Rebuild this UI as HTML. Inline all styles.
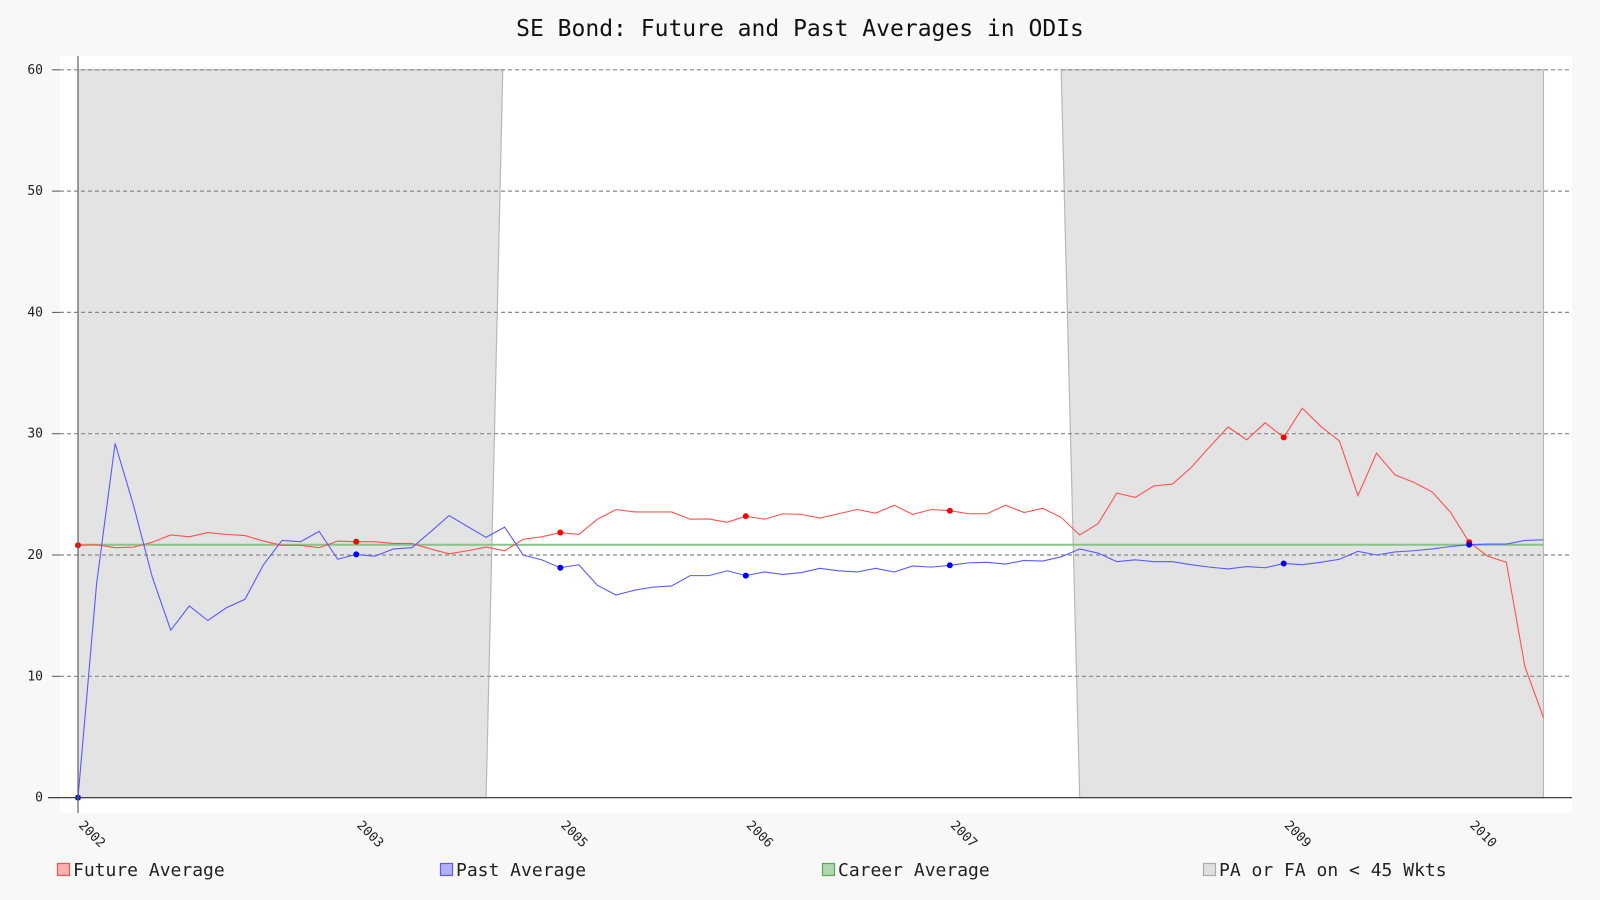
<!DOCTYPE html>
<html><head><meta charset="utf-8"><style>
html,body{margin:0;padding:0;background:#f8f8f8;}
svg{display:block;font-family:"DejaVu Sans Mono","Liberation Mono",monospace;}
</style></head><body>
<svg id="chart" width="1600" height="900" viewBox="0 0 1600 900" xmlns="http://www.w3.org/2000/svg">
<rect x="0" y="0" width="1600" height="900" fill="#f8f8f8"/>
<text x="800" y="36" text-anchor="middle" font-size="23" fill="#111">SE Bond: Future and Past Averages in ODIs</text>
<rect x="60" y="56" width="1512" height="757" fill="#ffffff"/>
<g id="shade"></g>
<g id="grid"></g>
<g id="series"></g>
<g id="axes"></g>
<g id="legend"></g>
</svg>
<script>
const yTicks = [0,10,20,30,40,50,60];
const xLabelIdx = [0,15,26,36,47,65,75];
const xLabels = ["2002","2003","2005","2006","2007","2009","2010"];
const future = [20.8,20.85,20.6,20.65,21.05,21.65,21.5,21.85,21.7,21.6,21.15,20.8,20.8,20.6,21.15,21.1,21.1,20.95,20.95,20.5,20.1,20.35,20.65,20.35,21.3,21.5,21.85,21.7,22.95,23.75,23.55,23.55,23.55,22.95,22.97,22.7,23.2,22.95,23.4,23.35,23.05,23.4,23.75,23.45,24.1,23.35,23.75,23.65,23.4,23.4,24.1,23.5,23.85,23.1,21.65,22.6,25.1,24.75,25.7,25.85,27.2,28.9,30.55,29.5,30.9,29.7,32.1,30.6,29.4,24.9,28.4,26.6,26.0,25.2,23.5,21.05,19.9,19.4,10.8,6.6];
const past = [0,17.6,29.2,24.05,18.2,13.8,15.8,14.6,15.65,16.35,19.2,21.2,21.1,21.95,19.65,20.05,19.9,20.5,20.6,21.9,23.25,22.35,21.45,22.3,20.0,19.6,18.95,19.2,17.5,16.7,17.1,17.35,17.45,18.3,18.3,18.7,18.3,18.6,18.4,18.55,18.9,18.7,18.6,18.9,18.6,19.1,19.0,19.15,19.35,19.4,19.25,19.55,19.5,19.85,20.5,20.15,19.45,19.6,19.45,19.45,19.2,19.0,18.85,19.05,18.95,19.3,19.2,19.4,19.65,20.3,20.0,20.25,20.35,20.5,20.7,20.85,20.9,20.9,21.2,21.25];
const career = [20.85];
const markerIdx = [0,15,26,36,47,65,75];
const shadeRegions = [
  {topStart:0, topEnd:22.9, botStart:0, botEnd:22.0},
  {topStart:53.0, topEnd:79, botStart:54.0, botEnd:79}
];
const shadeTop = [60];
const legendNames = ["Future Average","Past Average","Career Average","PA or FA on < 45 Wkts"];

const NS="http://www.w3.org/2000/svg";
function X(i){return 78 + i*18.55;}
function Y(v){return 797.6 - v*12.13;}
function mk(tag,attrs,parent){const e=document.createElementNS(NS,tag);for(const k in attrs)e.setAttribute(k,attrs[k]);parent.appendChild(e);return e;}
const shade=document.getElementById('shade'),grid=document.getElementById('grid'),series=document.getElementById('series'),axes=document.getElementById('axes'),legend=document.getElementById('legend');

shadeRegions.forEach((r,k)=>{
  const pts=`${X(r.topStart)},${Y(shadeTop[0])} ${X(r.topEnd)},${Y(shadeTop[0])} ${X(r.botEnd)},${Y(0)} ${X(r.botStart)},${Y(0)}`;
  const p=mk('polygon',{points:pts,fill:'#e3e3e3',stroke:'#b8b8b8','stroke-width':1.2},shade);
  
  
});

yTicks.forEach(t=>{
  if(t>0){
    const l=mk('line',{x1:60,x2:1572,y1:Y(t),y2:Y(t),stroke:'#888','stroke-width':1.2,'stroke-dasharray':'4,3'},grid);
    
    
  }
  const tx=mk('text',{x:43,y:Y(t)+4,'text-anchor':'end','font-size':13,fill:'#222'},axes);
  tx.textContent=t;
  
  
  const tk=mk('line',{x1:52,x2:60,y1:Y(t),y2:Y(t),stroke:'#555','stroke-width':1},axes);
  
  
});

const ax=mk('line',{x1:78,x2:78,y1:56,y2:813,stroke:'#666','stroke-width':1.2},axes);


const bx=mk('line',{x1:48,x2:1572,y1:Y(0),y2:Y(0),stroke:'#444','stroke-width':1.2},axes);



xLabelIdx.forEach((idx,k)=>{
  const x=X(idx), y=826;
  const t=mk('text',{x:x,y:y,'font-size':13,fill:'#222',transform:`rotate(45 ${x} ${y})`},axes);
  t.textContent=xLabels[k];
  
  
});

const cl=mk('line',{x1:X(0),x2:X(future.length-1),y1:Y(career[0]),y2:Y(career[0]),stroke:'#88c488','stroke-width':2},series);



function drawLine(arr,color,name){
  const p=mk('polyline',{points:arr.map((v,i)=>X(i)+','+Y(v)).join(' '),fill:'none',stroke:color,'stroke-width':1.1},series);
  
  
}
drawLine(future,'#ff5050','future-average');
drawLine(past,'#5a5aff','past-average');
markerIdx.forEach(i=>{
  const a=mk('circle',{cx:X(i),cy:Y(future[i]),r:3,fill:'#ff0000'},series);
  
  
  const b=mk('circle',{cx:X(i),cy:Y(past[i]),r:3,fill:'#0000ff'},series);
  
  
});

const legX=[57,440,822,1203];
const legFill=['#ffb0b0','#b0b0ff','#b0d8b0','#e0e0e0'];
const legStroke=['#ff5050','#5a5aff','#58a858','#aaa'];
legendNames.forEach((n,k)=>{
  const r=mk('rect',{x:legX[k]+0.5,y:863.5,width:12,height:12,fill:legFill[k],stroke:legStroke[k],'stroke-width':1.2},legend);
  
  
  const t=mk('text',{x:legX[k]+16,y:876,'font-size':18,fill:'#222'},legend);
  t.textContent=n;
  
  
});
</script>
</body></html>
